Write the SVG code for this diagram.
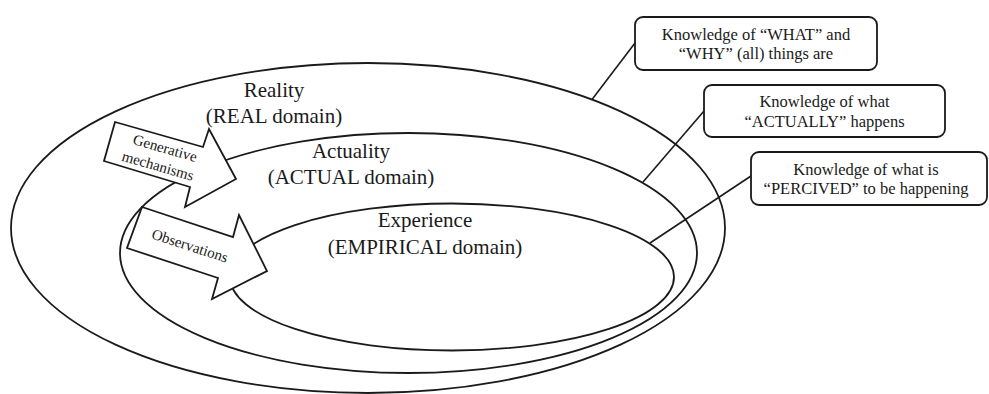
<svg xmlns="http://www.w3.org/2000/svg" width="989" height="394" viewBox="0 0 989 394">
  <style>
    .domain { fill: none; stroke: #1a1a1a; stroke-width: 1.8; }
    .arrow { fill: #ffffff; stroke: #1a1a1a; stroke-width: 1.8; stroke-linejoin: miter; }
    .box { fill: #ffffff; stroke: #1a1a1a; stroke-width: 1.8; }
    .link { stroke: #1a1a1a; stroke-width: 1.6; fill: none; }
    .big { font-family: "Liberation Serif", "Times New Roman", serif; font-size: 21px; fill: #1a1a1a; text-anchor: middle; }
    .note { font-family: "Liberation Serif", "Times New Roman", serif; font-size: 16.5px; fill: #1a1a1a; text-anchor: middle; }
    .tag { font-family: "Liberation Serif", "Times New Roman", serif; font-size: 15px; fill: #1a1a1a; text-anchor: middle; }
  </style>
  <rect width="989" height="394" fill="#ffffff"/>

  <!-- nested domains -->
  <g id="real-domain">
    <ellipse class="domain" cx="368" cy="228" rx="357" ry="165"/>
    <text class="big" x="274" y="97">Reality</text>
    <text class="big" x="274" y="123">(REAL domain)</text>
  </g>
  <g id="actual-domain">
    <ellipse class="domain" cx="408.5" cy="253" rx="288.5" ry="120"/>
    <text class="big" x="351" y="158">Actuality</text>
    <text class="big" x="351" y="184">(ACTUAL domain)</text>
  </g>
  <g id="empirical-domain">
    <ellipse class="domain" cx="452" cy="277" rx="222" ry="73.5"/>
    <text class="big" x="425" y="227">Experience</text>
    <text class="big" x="425" y="254">(EMPIRICAL domain)</text>
  </g>

  <!-- block arrows -->
  <g id="generative-mechanisms">
    <polygon class="arrow" points="115,122 203,147 209,129 236,179 185,207 190,187 104,161"/>
    <g transform="translate(153,154) rotate(16)">
      <text class="tag" x="10" y="-4">Generative</text>
      <text class="tag" x="8" y="15">mechanisms</text>
    </g>
  </g>
  <g id="observations">
    <polygon class="arrow" points="142,207 233,237 239,215 267,271 212,299 218,278 127,248"/>
    <text class="tag" transform="translate(180,242.5) rotate(18)" x="10.5" y="5">Observations</text>
  </g>

  <!-- leader lines from each domain to its note -->
  <g id="connectors">
    <line class="link" x1="592" y1="99.5" x2="635" y2="43"/>
    <line class="link" x1="643" y1="182" x2="704" y2="111"/>
    <line class="link" x1="650" y1="243" x2="751" y2="176"/>
  </g>

  <!-- notes -->
  <g id="note-real">
    <rect class="box" x="635" y="17" width="242" height="53" rx="8"/>
    <text class="note" x="756" y="40">Knowledge of “WHAT” and</text>
    <text class="note" x="756" y="59">“WHY” (all) things are</text>
  </g>
  <g id="note-actual">
    <rect class="box" x="704" y="85" width="241" height="52" rx="8"/>
    <text class="note" x="824.5" y="107">Knowledge of what</text>
    <text class="note" x="824.5" y="127">“ACTUALLY” happens</text>
  </g>
  <g id="note-empirical">
    <rect class="box" x="751" y="152" width="236" height="53" rx="8"/>
    <text class="note" x="866" y="175">Knowledge of what is</text>
    <text class="note" x="866" y="194">“PERCIVED” to be happening</text>
  </g>
</svg>
